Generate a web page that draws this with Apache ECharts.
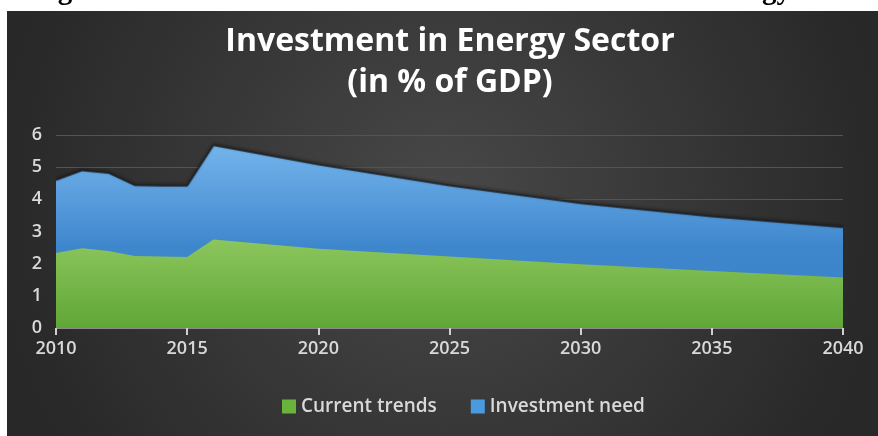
<!DOCTYPE html>
<html>
<head>
<meta charset="utf-8">
<script src="https://cdn.jsdelivr.net/npm/echarts@6/dist/echarts.min.js"></script>
<style>
  html, body { margin: 0; padding: 0; background: #fff; }
  #stage { width: 878px; height: 436px; }
</style>
</head>
<body>
<div id="stage"></div>
<script>
'use strict';

const myChart = echarts.init(document.getElementById('stage'));

// years (knots of the areas)
const years = [2010, 2011, 2012, 2013, 2014, 2015, 2016, 2020, 2025, 2030, 2035, 2040];
// % of GDP, bottom layer
const currentTrends = [2.33, 2.48, 2.39, 2.24, 2.22, 2.21, 2.75, 2.46, 2.22, 1.98, 1.77, 1.57];
// % of GDP, stacked on top of current trends
const investmentNeed = [2.27, 2.42, 2.43, 2.20, 2.20, 2.21, 2.93, 2.62, 2.21, 1.90, 1.70, 1.56];
const xTicks = [2010, 2015, 2020, 2025, 2030, 2035, 2040];
const seriesNames = ['Current trends', 'Investment need'];

// the blue area is drawn from 0 up to the total, the green one is laid over it
const totals = currentTrends.map((v, i) => +(v + investmentNeed[i]).toFixed(2));
const pairs = (vals) => years.map((y, i) => [y, vals[i]]);

const labelFont = { color: '#d9d9d9', fontFamily: 'Open Sans', fontWeight: 600, fontSize: 18 };

const option = {
  backgroundColor: '#ffffff',
  animation: false,
  graphic: [
    {
      // caption of the page, cut off by the crop
      type: 'text',
      left: 32,
      top: -23,
      z: -20,
      silent: true,
      style: {
        text: 'Figure 4: Current Trends and Investment Need in the Energy Sector',
        font: 'bold 29px "Liberation Serif"',
        fill: '#000'
      }
    },
    {
      type: 'rect',
      z: -10,
      silent: true,
      shape: { x: 7, y: 11, width: 871, height: 425 },
      style: {
        fill: new echarts.graphic.RadialGradient(0.5, 0.45, 1.05, [
          { offset: 0, color: '#484848' },
          { offset: 1, color: '#282828' }
        ])
      }
    }
  ],
  title: {
    text: 'Investment in Energy Sector\n(in % of GDP)',
    left: 445,
    textAlign: 'center',
    top: 16,
    textStyle: {
      color: '#ffffff',
      fontFamily: 'Open Sans',
      fontWeight: 'bold',
      fontSize: 32,
      lineHeight: 41
    }
  },
  legend: {
    bottom: 15,
    left: 277,
    icon: 'rect',
    itemWidth: 14,
    itemHeight: 14,
    itemGap: 34,
    textStyle: { color: '#d9d9d9', fontFamily: 'Open Sans', fontWeight: 600, fontSize: 19 },
    data: [
      { name: seriesNames[0], itemStyle: { color: '#6ab43e' } },
      { name: seriesNames[1], itemStyle: { color: '#4a9ae0' } }
    ]
  },
  grid: {
    left: 56,
    right: 35,
    top: 135,
    bottom: 108
  },
  xAxis: {
    type: 'value',
    min: 2010,
    max: 2040,
    interval: 5,
    axisLine: { show: true, lineStyle: { color: '#8a8a8a', width: 1 } },
    axisTick: { show: true, length: 7, lineStyle: { color: '#d0d0d0', width: 2 } },
    splitLine: { show: false },
    axisLabel: Object.assign({}, labelFont, {
      margin: 12,
      formatter: (v) => (xTicks.indexOf(v) >= 0 ? String(v) : '')
    })
  },
  yAxis: {
    type: 'value',
    min: 0,
    max: 6,
    interval: 1,
    axisLine: { show: false },
    axisTick: { show: false },
    splitLine: { lineStyle: { color: '#545454', width: 1 } },
    axisLabel: Object.assign({}, labelFont, { margin: 14 })
  },
  series: [
    {
      name: seriesNames[1],
      type: 'line',
      z: 2,
      showSymbol: false,
      symbol: 'none',
      itemStyle: { color: '#4a9ae0' },
      lineStyle: { width: 2, color: 'rgba(30,30,30,0.7)', shadowColor: 'rgba(0,0,0,0.6)', shadowBlur: 3, shadowOffsetY: -1 },
      areaStyle: {
        opacity: 1,
        color: new echarts.graphic.LinearGradient(0, 0, 0, 1, [
          { offset: 0, color: '#74b4ec' },
          { offset: 0.55, color: '#3f87cd' },
          { offset: 1, color: '#3a80c4' }
        ])
      },
      data: pairs(totals)
    },
    {
      name: seriesNames[0],
      type: 'line',
      z: 3,
      showSymbol: false,
      symbol: 'none',
      itemStyle: { color: '#6ab43e' },
      lineStyle: { width: 0 },
      areaStyle: {
        opacity: 1,
        color: new echarts.graphic.LinearGradient(0, 0, 0, 1, [
          { offset: 0, color: '#8cc65c' },
          { offset: 1, color: '#60a637' }
        ])
      },
      data: pairs(currentTrends)
    }
  ]
};

myChart.setOption(option);
</script>
</body>
</html>
